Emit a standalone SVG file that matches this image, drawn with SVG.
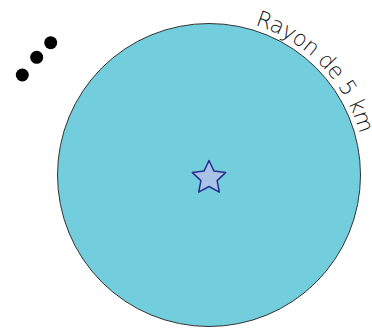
<svg xmlns="http://www.w3.org/2000/svg" xmlns:xlink="http://www.w3.org/1999/xlink" width="372" height="328" viewBox="0 0 372 328">
<style>
.dot{fill:#000}
.lbl{font-family:"DejaVu Sans","Noto Sans","Liberation Sans",sans-serif;font-size:22px;font-weight:300;fill:#111}
</style>
<defs>
<path id="arc" d="M254.9,24.9 A156,156 0 0 1 365,175"/>
</defs>
<rect width="372" height="328" fill="#fff"/>
<g id="zone">
<circle cx="209" cy="175" r="151.5" fill="#72CDDC" stroke="#333" stroke-width="1"/>
</g>
<g id="center">
<polygon points="209,160.5 214,171.1 225.6,172.6 217.1,180.6 219.3,192.2 209,186.5 198.7,192.2 200.9,180.6 192.4,172.6 204,171.1" fill="#A8C2E8" stroke="#2B2F8F" stroke-width="1.5" stroke-linejoin="round"/>
</g>
<g id="dots">
<circle class="dot" cx="50.7" cy="42.7" r="6.5"/>
<circle class="dot" cx="36.7" cy="57.3" r="6.5"/>
<circle class="dot" cx="22.3" cy="75" r="6.5"/>
</g>
<g id="label">
<text class="lbl"><textPath xlink:href="#arc" href="#arc" textLength="158" lengthAdjust="spacing">Rayon de 5 km</textPath></text>
</g>
</svg>
